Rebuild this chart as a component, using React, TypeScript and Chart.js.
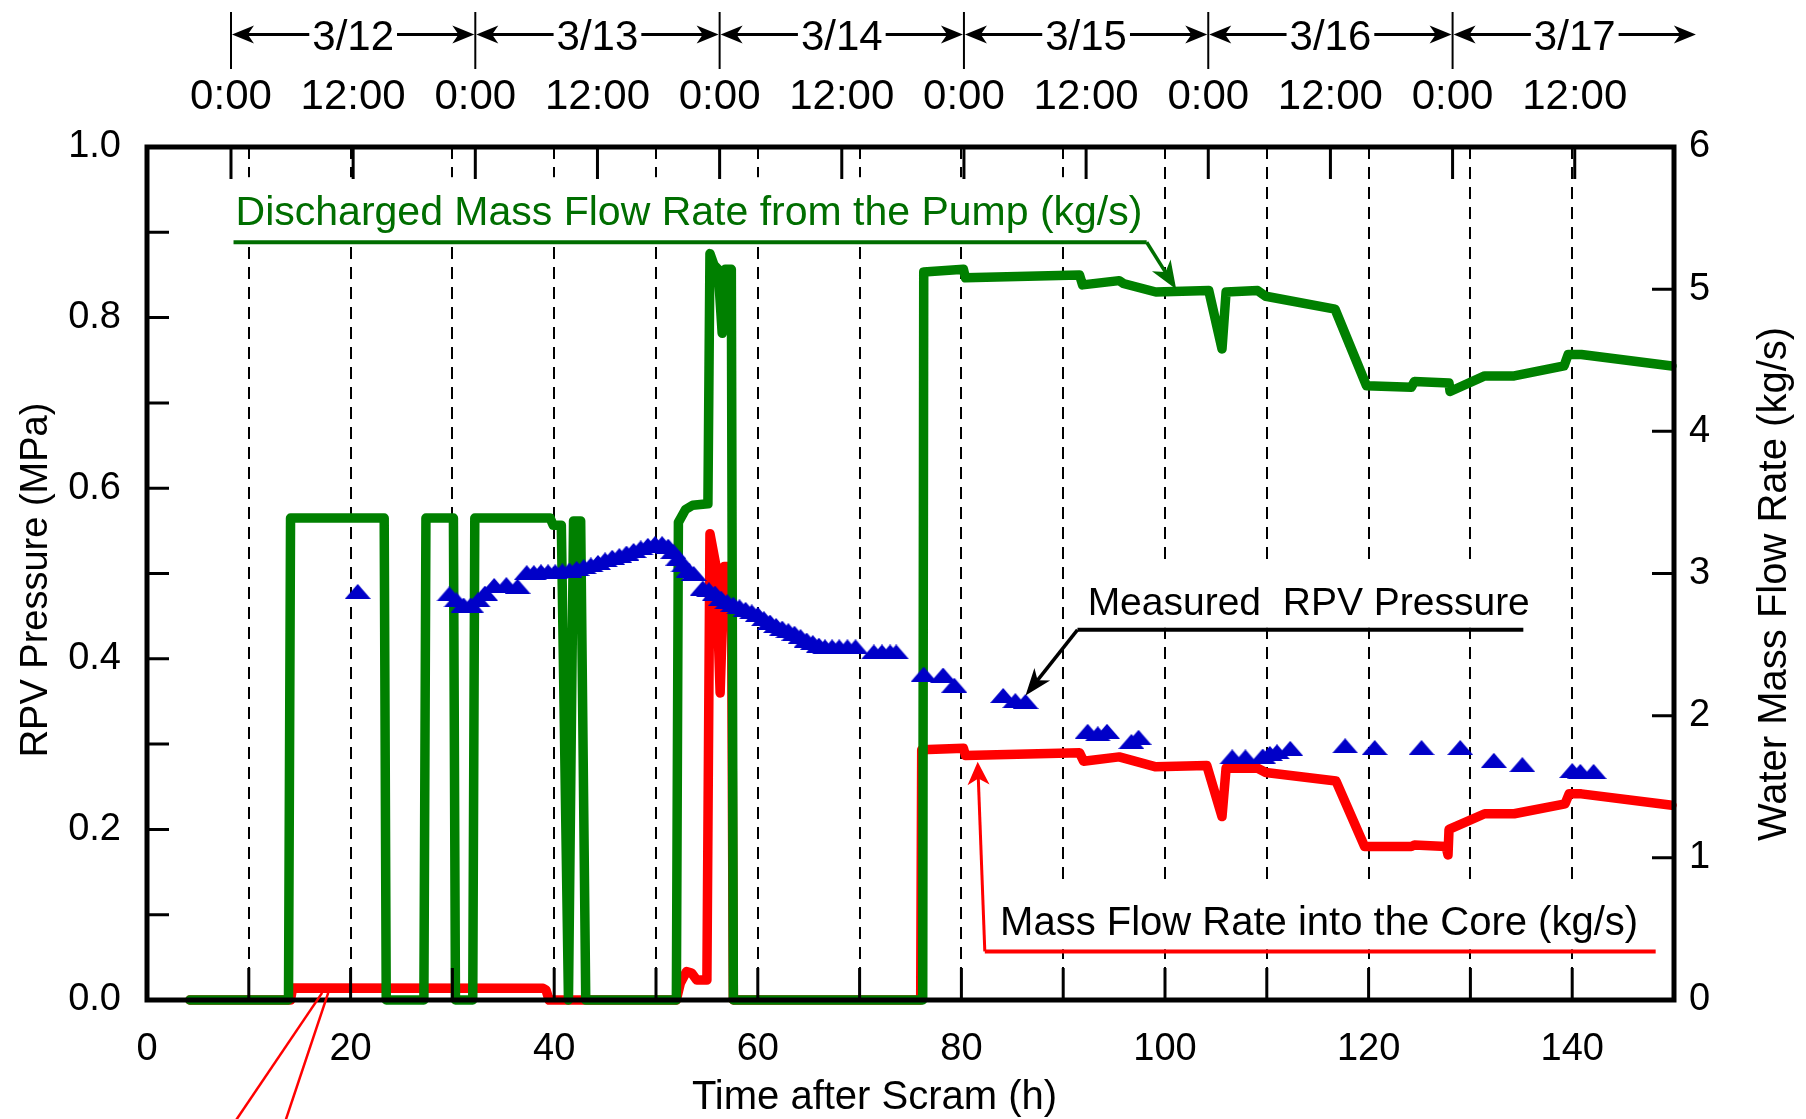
import React, { useEffect, useRef } from 'react';
import { Chart, registerables } from 'chart.js';

Chart.register(...registerables);

const FONT = '"Liberation Sans", Arial, sans-serif';
const CANVAS_W = 1806;
const CANVAS_H = 1119;

// ---------- data : [time after scram (h), value] ----------
// Discharged mass flow rate from the pump (kg/s)
const pumpFlow: [number, number][] = [
  [4.2, 0], [13.9, 0], [14.1, 3.39], [23.3, 3.39], [23.5, 0], [27.2, 0], [27.4, 3.39], [30.1, 3.39],
  [30.3, 0], [32.0, 0], [32.2, 3.39], [39.6, 3.39], [39.9, 3.34], [40.7, 3.34], [41.4, 0], [41.9, 3.37],
  [42.6, 3.37], [43.1, 0], [52.0, 0], [52.2, 3.36], [52.9, 3.45], [53.6, 3.48], [55.1, 3.49], [55.3, 5.25],
  [55.7, 5.17], [56.1, 5.14], [56.5, 4.69], [56.8, 5.14], [57.4, 5.14], [57.6, 0], [76.2, 0], [76.3, 5.12],
  [80.2, 5.14], [80.4, 5.08], [91.6, 5.10], [91.9, 5.03], [95.5, 5.06], [95.9, 5.04], [99.1, 4.98],
  [104.3, 4.99], [105.6, 4.58], [106.0, 4.98], [109.1, 4.99], [109.9, 4.95], [116.7, 4.86], [119.8, 4.32],
  [124.2, 4.31], [124.5, 4.35], [127.9, 4.34], [128.0, 4.28], [131.4, 4.39], [134.3, 4.39], [139.2, 4.46],
  [139.6, 4.54], [140.9, 4.54], [149.8, 4.46],
];

// Mass flow rate into the core (kg/s)
const coreFlow: [number, number][] = [
  [4.2, 0], [14.1, 0], [14.3, 0.085], [38.9, 0.083], [39.2, 0.07], [39.5, 0], [52.0, 0], [52.4, 0.12],
  [53.0, 0.2], [53.5, 0.19], [54.0, 0.14], [55.0, 0.14], [55.3, 3.28], [55.9, 3.05], [56.3, 2.16],
  [56.7, 3.05], [57.4, 3.05], [57.6, 0], [76.0, 0], [76.1, 1.76], [80.2, 1.77], [80.4, 1.72], [91.6, 1.74],
  [92.0, 1.68], [95.5, 1.71], [99.1, 1.64], [104.1, 1.65], [105.6, 1.29], [106.0, 1.63], [109.1, 1.63],
  [109.9, 1.60], [116.8, 1.54], [119.6, 1.08], [124.2, 1.08], [124.5, 1.09], [127.6, 1.08], [127.8, 1.02],
  [127.9, 1.2], [131.4, 1.31], [134.3, 1.31], [139.3, 1.38], [139.7, 1.45], [140.9, 1.45], [149.8, 1.37],
];

// Measured RPV pressure (MPa)
const rpvPressure: [number, number][] = [
  [20.7, 0.479], [29.7, 0.476], [30.4, 0.469], [31.1, 0.463], [31.8, 0.463], [32.5, 0.469], [33.2, 0.477],
  [34.1, 0.486], [35.3, 0.487], [36.4, 0.485],
  [37.3, 0.501], [38.0, 0.501], [38.7, 0.502], [39.4, 0.502], [40.1, 0.502], [40.8, 0.503], [41.5, 0.504],
  [42.2, 0.506], [42.9, 0.508], [43.6, 0.510], [44.3, 0.513], [45.0, 0.516], [45.7, 0.519], [46.4, 0.521],
  [47.1, 0.524], [47.8, 0.527], [48.5, 0.530], [49.2, 0.533], [49.9, 0.535], [50.6, 0.535], [51.2, 0.532],
  [51.7, 0.526], [52.2, 0.518], [52.7, 0.510], [53.2, 0.504], [53.7, 0.500],
  [54.6, 0.483], [55.2, 0.481], [55.8, 0.477], [56.4, 0.471], [57.0, 0.467], [57.6, 0.464], [58.2, 0.461],
  [58.8, 0.458], [59.4, 0.455], [60.0, 0.452], [60.6, 0.447], [61.2, 0.443], [61.8, 0.439], [62.4, 0.436],
  [63.0, 0.433], [63.6, 0.430], [64.2, 0.426], [64.8, 0.422], [65.4, 0.419], [66.0, 0.416], [66.6, 0.414],
  [67.3, 0.414], [68.0, 0.414], [68.8, 0.414], [69.6, 0.414],
  [71.4, 0.408], [72.2, 0.408], [73.0, 0.408], [73.6, 0.408],
  [76.3, 0.382], [78.2, 0.381], [79.3, 0.369],
  [84.1, 0.357], [85.3, 0.351], [86.3, 0.350],
  [92.4, 0.315], [93.4, 0.312], [94.3, 0.315], [96.7, 0.303], [97.4, 0.308],
  [106.6, 0.285], [107.9, 0.285], [109.6, 0.286], [110.3, 0.289], [111.0, 0.291], [112.3, 0.295],
  [117.7, 0.298], [120.6, 0.296], [125.2, 0.296], [129.0, 0.296],
  [132.3, 0.281], [135.1, 0.276],
  [140.0, 0.269], [140.8, 0.268], [142.1, 0.268],
];

// top (clock time) axis
const topTickHours = [8.25, 20.25, 32.25, 44.25, 56.25, 68.25, 80.25, 92.25, 104.25, 116.25, 128.25, 140.25];
const topTickLabels = ['0:00', '12:00', '0:00', '12:00', '0:00', '12:00', '0:00', '12:00', '0:00', '12:00', '0:00', '12:00'];
const dayStartHours = [8.25, 32.25, 56.25, 80.25, 104.25, 128.25];
const dayLabels = ['3/12', '3/13', '3/14', '3/15', '3/16', '3/17'];
const DAY_HOURS = 24;

// annotation layout (anchored in data units)
const notes = [
  {
    text: 'Discharged Mass Flow Rate from the Pump (kg/s)', color: '#006e00', lineColor: '#006e00', size: 41,
    axis: 'y1', textT: 8.7, textV: 5.45, lineV: 5.33, lineT0: 8.5, lineT1: 98.2, from: 'right',
    tipT: 101.1, tipV: 5.0, underW: 4, leadW: 3.5, headLen: 28, headHalf: 11,
  },
  {
    text: 'Measured  RPV Pressure', color: '#000000', lineColor: '#000000', size: 39,
    axis: 'y', textT: 92.4, textV: 0.4516, lineV: 0.434, lineT0: 91.4, lineT1: 135.2, from: 'left',
    tipT: 86.3, tipV: 0.357, underW: 4, leadW: 3.5, headLen: 27, headHalf: 10,
  },
  {
    text: 'Mass Flow Rate into the Core (kg/s)', color: '#000000', lineColor: '#ff0000', size: 40,
    axis: 'y1', textT: 83.8, textV: 0.4576, lineV: 0.342, lineT0: 82.3, lineT1: 148.2, from: 'left',
    tipT: 81.6, tipV: 1.675, underW: 4, leadW: 3, headLen: 23, headHalf: 11,
  },
];

// two red leader lines running off the bottom edge (to a label outside the picture)
const bottomLeaders: [number, number, number, number][] = [
  [17.2, 0.05, 8.7, -0.85],
  [17.8, 0.05, 13.6, -0.85],
];

function makeTriangle(): HTMLCanvasElement {
  const c = document.createElement('canvas');
  c.width = 26;
  c.height = 15;
  const g = c.getContext('2d')!;
  g.fillStyle = '#0000c8';
  g.beginPath();
  g.moveTo(0, 15);
  g.lineTo(13, 0);
  g.lineTo(26, 15);
  g.closePath();
  g.fill();
  return c;
}

function arrowHead(ctx: CanvasRenderingContext2D, tx: number, ty: number, fx: number, fy: number, len: number, half: number) {
  const ang = Math.atan2(ty - fy, tx - fx);
  ctx.save();
  ctx.translate(tx, ty);
  ctx.rotate(ang);
  ctx.beginPath();
  ctx.moveTo(0, 0);
  ctx.lineTo(-len, -half);
  ctx.lineTo(-len * 0.72, 0);
  ctx.lineTo(-len, half);
  ctx.closePath();
  ctx.fill();
  ctx.restore();
}

function arrowLine(ctx: CanvasRenderingContext2D, fx: number, fy: number, tx: number, ty: number, len: number, half: number, width: number) {
  const d = Math.hypot(tx - fx, ty - fy) || 1;
  const sx = tx - ((tx - fx) / d) * len * 0.7;
  const sy = ty - ((ty - fy) / d) * len * 0.7;
  ctx.lineWidth = width;
  ctx.beginPath();
  ctx.moveTo(fx, fy);
  ctx.lineTo(sx, sy);
  ctx.stroke();
  arrowHead(ctx, tx, ty, fx, fy, len, half);
}

const decor = {
  id: 'decor',
  beforeDatasetsDraw(chart: any) {
    const { ctx } = chart;
    const sx = chart.scales.x;
    ctx.save();
    for (const n of notes) {
      const ys = chart.scales[n.axis];
      ctx.font = `${n.size}px ${FONT}`;
      const tx = sx.getPixelForValue(n.textT);
      const w = ctx.measureText(n.text).width;
      const base = ys.getPixelForValue(n.textV);
      const ly = ys.getPixelForValue(n.lineV);
      const x0 = Math.min(tx, sx.getPixelForValue(n.lineT0)) - 4;
      const x1 = Math.max(tx + w, sx.getPixelForValue(n.lineT1)) + 4;
      ctx.fillStyle = '#ffffff';
      ctx.fillRect(x0, base - 48, x1 - x0, ly - 2 - (base - 48));
    }
    ctx.restore();
  },
  afterDatasetsDraw(chart: any) {
    const { ctx, chartArea: ca } = chart;
    const sx = chart.scales.x;
    const sy = chart.scales.y;
    const sy1 = chart.scales.y1;
    const st = chart.scales.xTop;
    ctx.save();

    // inward tick marks
    ctx.strokeStyle = '#000';
    ctx.lineWidth = 3;
    ctx.lineCap = 'butt';
    ctx.beginPath();
    for (const t of sy.ticks) {
      const p = sy.getPixelForValue(t.value);
      ctx.moveTo(ca.left, p);
      ctx.lineTo(ca.left + 22, p);
    }
    for (const t of sy1.ticks) {
      const p = sy1.getPixelForValue(t.value);
      ctx.moveTo(ca.right, p);
      ctx.lineTo(ca.right - 22, p);
    }
    for (const t of sx.ticks) {
      const p = sx.getPixelForValue(t.value);
      ctx.moveTo(p, ca.bottom);
      ctx.lineTo(p, ca.bottom - 32);
    }
    for (const t of st.ticks) {
      const p = st.getPixelForValue(t.value);
      ctx.moveTo(p, ca.top);
      ctx.lineTo(p, ca.top + 32);
    }
    ctx.stroke();

    // frame
    ctx.lineWidth = 5;
    ctx.lineJoin = 'miter';
    ctx.strokeRect(ca.left, ca.top, ca.right - ca.left, ca.bottom - ca.top);

    // annotations
    for (const n of notes) {
      const ys = chart.scales[n.axis];
      ctx.font = `${n.size}px ${FONT}`;
      ctx.fillStyle = n.color;
      ctx.textAlign = 'left';
      ctx.textBaseline = 'alphabetic';
      ctx.fillText(n.text, sx.getPixelForValue(n.textT), ys.getPixelForValue(n.textV));
      const ly = ys.getPixelForValue(n.lineV);
      const lx0 = sx.getPixelForValue(n.lineT0);
      const lx1 = sx.getPixelForValue(n.lineT1);
      ctx.strokeStyle = n.lineColor;
      ctx.fillStyle = n.lineColor;
      ctx.lineCap = 'butt';
      ctx.lineWidth = n.underW;
      ctx.beginPath();
      ctx.moveTo(lx0, ly);
      ctx.lineTo(lx1, ly);
      ctx.stroke();
      const fx = n.from === 'right' ? lx1 : lx0;
      arrowLine(ctx, fx, ly, sx.getPixelForValue(n.tipT), ys.getPixelForValue(n.tipV), n.headLen, n.headHalf, n.leadW);
    }

    // red leaders off the bottom
    ctx.strokeStyle = '#ff0000';
    ctx.lineWidth = 2.5;
    for (const [t0, v0, t1, v1] of bottomLeaders) {
      ctx.beginPath();
      ctx.moveTo(sx.getPixelForValue(t0), sy1.getPixelForValue(v0));
      ctx.lineTo(sx.getPixelForValue(t1), sy1.getPixelForValue(v1));
      ctx.stroke();
    }

    // day brackets on top
    ctx.strokeStyle = '#000';
    ctx.fillStyle = '#000';
    ctx.font = `42px ${FONT}`;
    ctx.textAlign = 'center';
    ctx.textBaseline = 'alphabetic';
    const yA = 34.5;
    dayStartHours.forEach((h, i) => {
      const pa = st.getPixelForValue(h);
      const pb = st.getPixelForValue(h + DAY_HOURS);
      ctx.lineWidth = 2;
      ctx.beginPath();
      ctx.moveTo(pa, 12);
      ctx.lineTo(pa, 69);
      ctx.stroke();
      const label = dayLabels[i];
      const w = ctx.measureText(label).width;
      const cx = (pa + pb) / 2;
      ctx.fillText(label, cx, 50);
      arrowLine(ctx, cx - w / 2 - 3, yA, pa + 1, yA, 22, 9, 3);
      arrowLine(ctx, cx + w / 2 + 3, yA, pb - 1, yA, 22, 9, 3);
    });

    // axis titles
    ctx.font = `38px ${FONT}`;
    ctx.save();
    ctx.translate(47, 580);
    ctx.rotate(-Math.PI / 2);
    ctx.fillText('RPV Pressure (MPa)', 0, 0);
    ctx.restore();
    ctx.font = `40px ${FONT}`;
    ctx.save();
    ctx.translate(1786, 584);
    ctx.rotate(-Math.PI / 2);
    ctx.fillText('Water Mass Flow Rate (kg/s)', 0, 0);
    ctx.restore();
    ctx.fillText('Time after Scram (h)', 874.5, 1109);

    ctx.restore();
  },
};

export default function App() {
  const ref = useRef<HTMLCanvasElement>(null);
  useEffect(() => {
    const canvas = ref.current!;
    const tri = makeTriangle();
    const tickFont = { family: FONT, size: 38 };
    const chart = new Chart(canvas, {
      type: 'line',
      data: {
        datasets: [
          {
            label: 'Measured RPV Pressure',
            data: rpvPressure.map(([x, y]) => ({ x, y })),
            xAxisID: 'x', yAxisID: 'y',
            showLine: false,
            pointStyle: tri as any,
            pointRadius: 6,
            pointHoverRadius: 6,
            borderColor: '#0000c8',
            backgroundColor: '#0000c8',
            order: 0,
          },
          {
            label: 'Discharged Mass Flow Rate from the Pump (kg/s)',
            data: pumpFlow.map(([x, y]) => ({ x, y })),
            xAxisID: 'x', yAxisID: 'y1',
            borderColor: '#008000',
            backgroundColor: '#008000',
            borderWidth: 9.5,
            pointRadius: 0,
            tension: 0,
            fill: false,
            borderCapStyle: 'round',
            borderJoinStyle: 'round',
            clip: false as any,
            order: 1,
          },
          {
            label: 'Mass Flow Rate into the Core (kg/s)',
            data: coreFlow.map(([x, y]) => ({ x, y })),
            xAxisID: 'x', yAxisID: 'y1',
            borderColor: '#ff0000',
            backgroundColor: '#ff0000',
            borderWidth: 9.5,
            pointRadius: 0,
            tension: 0,
            fill: false,
            borderCapStyle: 'round',
            borderJoinStyle: 'round',
            clip: false as any,
            order: 2,
          },
        ] as any,
      },
      options: {
        animation: false,
        responsive: false,
        devicePixelRatio: 1,
        events: [],
        layout: { padding: 0 },
        plugins: {
          legend: { display: false },
          tooltip: { enabled: false },
          title: { display: false },
        },
        scales: {
          x: {
            type: 'linear',
            position: 'bottom',
            min: 0,
            max: 150,
            ticks: {
              stepSize: 10,
              autoSkip: false,
              maxRotation: 0,
              minRotation: 0,
              padding: 27,
              color: '#000',
              font: tickFont,
              callback: (v: any) => (Number(v) % 20 === 0 ? String(v) : ''),
            },
            grid: { display: true, drawTicks: false, color: '#000', lineWidth: 2 },
            border: { display: false, dash: [12, 8] },
            afterFit: (s: any) => { s.height = 119; },
          },
          xTop: {
            type: 'linear',
            position: 'top',
            min: 0,
            max: 150,
            afterBuildTicks: (s: any) => { s.ticks = topTickHours.map((v) => ({ value: v })); },
            ticks: {
              autoSkip: false,
              maxRotation: 0,
              minRotation: 0,
              padding: 24,
              color: '#000',
              font: { family: FONT, size: 42 },
              callback: (_v: any, i: number) => topTickLabels[i],
            },
            grid: { display: false, drawTicks: false },
            border: { display: false },
            afterFit: (s: any) => { s.height = 147; },
          },
          y: {
            type: 'linear',
            position: 'left',
            min: 0,
            max: 1,
            ticks: {
              stepSize: 0.1,
              padding: 26,
              color: '#000',
              font: tickFont,
              callback: (v: any) => {
                const k = Math.round(Number(v) * 10);
                return k % 2 === 0 ? (k / 10).toFixed(1) : '';
              },
            },
            grid: { display: false, drawTicks: false },
            border: { display: false },
            afterFit: (s: any) => { s.width = 147; },
          },
          y1: {
            type: 'linear',
            position: 'right',
            min: 0,
            max: 6,
            ticks: {
              stepSize: 1,
              padding: 15,
              color: '#000',
              font: tickFont,
              callback: (v: any) => String(Math.round(Number(v))),
            },
            grid: { display: false, drawTicks: false },
            border: { display: false },
            afterFit: (s: any) => { s.width = 132; },
          },
        },
      } as any,
      plugins: [decor as any],
    });
    return () => chart.destroy();
  }, []);

  return (
    <div style={{ position: 'fixed', left: 0, top: 0, width: CANVAS_W, height: CANVAS_H, background: '#fff' }}>
      <canvas ref={ref} width={CANVAS_W} height={CANVAS_H} style={{ display: 'block', width: CANVAS_W, height: CANVAS_H }} />
    </div>
  );
}
